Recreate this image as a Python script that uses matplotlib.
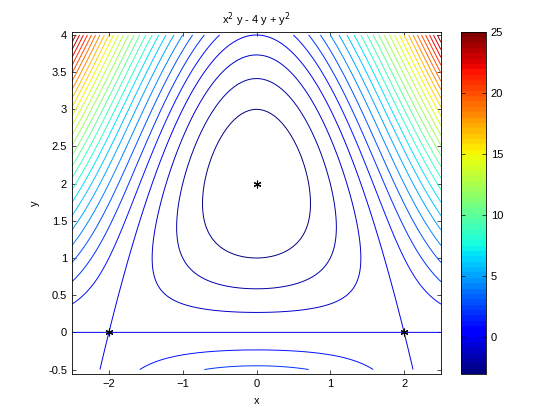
import numpy as np
import matplotlib
matplotlib.use("Agg")
import matplotlib.pyplot as plt
from matplotlib.colors import ListedColormap, Normalize

# grid range, axis limits and contour levels
x_range = [-2.5, 2.5]
y_range = [-0.5, 4.0]
y_lim = [-0.56, 4.04]
levels = list(range(-3, 26))
crit_x = [0, -2, 2]
crit_y = [2, 0, 0]
x_ticks = [-2, -1, 0, 1, 2]
y_ticks = [-0.5, 0, 0.5, 1, 1.5, 2, 2.5, 3, 3.5, 4]
cbar_ticks = [0, 5, 10, 15, 20, 25]

plt.rcParams["font.family"] = ["Liberation Sans", "DejaVu Sans"]
plt.rcParams["font.size"] = 8

x = np.linspace(x_range[0], x_range[1], 101)
y = np.linspace(y_range[0], y_range[1], 91)
X, Y = np.meshgrid(x, y)
Z = X**2 * Y - 4 * Y + Y**2  # the function in the title

cmap = ListedColormap(plt.cm.jet(np.linspace(0, 1, 64)))
norm = Normalize(vmin=levels[0], vmax=levels[-1])

fig = plt.figure(figsize=(5.6, 4.2), dpi=100)
ax = fig.add_axes([72 / 560, 46 / 420, 369 / 560, 342 / 420])
cs = ax.contour(X, Y, Z, levels=levels, cmap=cmap, norm=norm, linewidths=0.7)
ax.plot(crit_x, crit_y, "k", linestyle="none", marker=(6, 2, 0),
        markersize=5.5, markeredgewidth=0.8)

ax.set_xlim(x_range)
ax.set_ylim(y_lim)
ax.set_xticks(x_ticks)
ax.set_yticks(y_ticks)
ax.set_yticklabels(["-0.5", "0", "0.5", "1", "1.5", "2", "2.5", "3", "3.5", "4"])
ax.tick_params(direction="in", top=True, right=True, length=3, width=0.5)
for s in ax.spines.values():
    s.set_linewidth(0.6)
ax.set_xlabel("x", labelpad=5)
ax.set_ylabel("y", labelpad=6)
ax.set_title(r"x$^2$ y - 4 y + y$^2$", fontsize=8)

cax = fig.add_axes([461 / 560, 46 / 420, 25 / 560, 342 / 420])
sm = plt.cm.ScalarMappable(norm=norm, cmap=cmap)
cb = fig.colorbar(sm, cax=cax, ticks=cbar_ticks)
cb.outline.set_linewidth(0.6)
cax.tick_params(direction="in", left=True, right=True, length=3, width=0.5)

fig.savefig("out.png", dpi=100, facecolor="white")
